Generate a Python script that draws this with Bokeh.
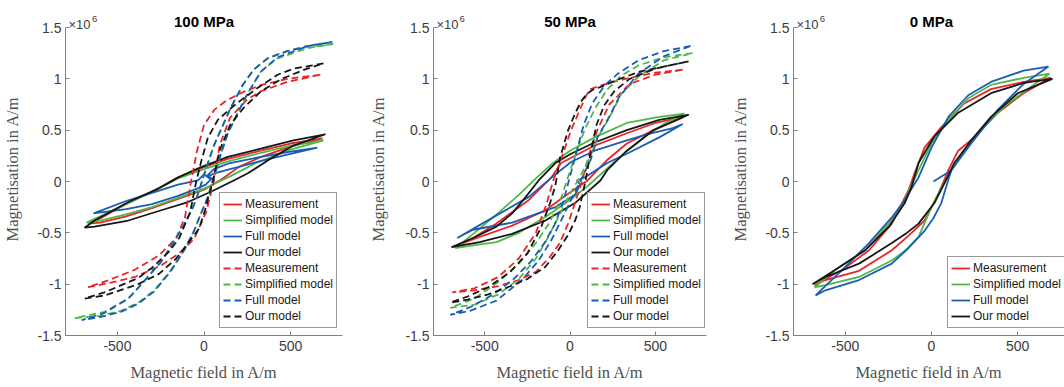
from bokeh.plotting import figure
from bokeh.layouts import row
from bokeh.models import Legend, LegendItem, FixedTicker, Range1d
from bokeh.core.properties import value
from bokeh.embed import file_html
from bokeh.resources import INLINE

# ---------------- data (H in A/m, M in 1e6 A/m) ----------------
titles = ["100 MPa", "50 MPa", "0 MPa"]
series_names = ["Measurement", "Simplified model", "Full model", "Our model"]
x_ticks = [-500, 0, 500]
x_tick_labels = ["-500", "0", "500"]
y_ticks = [-1.5, -1, -0.5, 0, 0.5, 1, 1.5]
y_tick_labels = ["-1.5", "-1", "-0.5", "0", "0.5", "1", "1.5"]
exp_base = "\u00d710"
exp_power = "6"

# 100 MPa, solid
H100_meas = [684, 500, 328, 138, 0, -150, -300, -450, -600, -667, -600, -450, -300, -150, 0, 100, 200, 330, 500, 684]
M100_meas = [0.42, 0.37, 0.30, 0.22, 0.14, 0.04, -0.10, -0.22, -0.36, -0.41, -0.40, -0.34, -0.26, -0.17, -0.08, 0.02, 0.14, 0.24, 0.34, 0.42]
H100_simp = [690, 500, 330, 150, 0, -150, -300, -450, -600, -678, -600, -450, -300, -150, 0, 150, 300, 500, 690]
M100_simp = [0.40, 0.35, 0.28, 0.20, 0.12, 0.03, -0.10, -0.22, -0.34, -0.40, -0.38, -0.32, -0.25, -0.16, -0.07, 0.05, 0.18, 0.31, 0.40]
H100_full = [655, 500, 330, 150, 57, 20, 40, 0, -35, -150, -300, -450, -638, -450, -300, -150, -40, 10, 45, 25, 60, 150, 330, 500, 655]
M100_full = [0.33, 0.29, 0.24, 0.18, 0.12, 0.06, 0.02, 0.07, 0.01, -0.03, -0.11, -0.19, -0.31, -0.27, -0.22, -0.14, -0.07, -0.03, 0.03, 0.05, 0.08, 0.12, 0.20, 0.27, 0.33]
H100_ours = [701, 517, 328, 138, -17, -149, -264, -437, -632, -690, -632, -437, -247, -92, 40, 172, 253, 402, 517, 701]
M100_ours = [0.46, 0.40, 0.32, 0.24, 0.14, 0.04, -0.07, -0.20, -0.38, -0.45, -0.44, -0.38, -0.28, -0.20, -0.10, 0.01, 0.08, 0.24, 0.35, 0.46]
# 100 MPa, dashed
H100_meas_d = [672, 480, 330, 225, 130, 60, 0, -40, -75, -110, -160, -260, -400, -550, -672, -550, -400, -250, -143, -57, 12, 57, 90, 150, 250, 330, 480, 672]
M100_meas_d = [1.04, 1.00, 0.94, 0.87, 0.79, 0.70, 0.55, 0.30, 0.0, -0.35, -0.55, -0.72, -0.86, -0.96, -1.03, -0.99, -0.93, -0.82, -0.70, -0.56, -0.30, 0.0, 0.35, 0.62, 0.80, 0.88, 0.97, 1.04]
H100_simp_d = [747, 600, 480, 368, 287, 224, 155, 115, 57, 23, -5, -30, -63, -115, -172, -247, -345, -437, -575, -747, -600, -480, -380, -287, -190, -115, -57, -17, 23, 75, 98, 138, 195, 253, 328, 425, 600, 747]
M100_simp_d = [1.34, 1.31, 1.27, 1.20, 1.09, 0.94, 0.72, 0.57, 0.35, 0.18, 0.04, -0.10, -0.25, -0.42, -0.58, -0.78, -0.97, -1.14, -1.27, -1.33, -1.31, -1.26, -1.18, -1.06, -0.86, -0.67, -0.48, -0.31, -0.15, 0.14, 0.27, 0.47, 0.67, 0.86, 1.07, 1.20, 1.30, 1.34]
H100_full_d = [741, 600, 480, 368, 287, 224, 155, 115, 57, 23, -5, -30, -63, -115, -172, -247, -345, -437, -575, -707, -600, -480, -380, -287, -190, -115, -57, -17, 23, 75, 98, 138, 195, 253, 328, 425, 600, 741]
M100_full_d = [1.36, 1.32, 1.27, 1.20, 1.09, 0.94, 0.72, 0.57, 0.35, 0.18, 0.04, -0.10, -0.25, -0.42, -0.58, -0.78, -0.97, -1.14, -1.28, -1.35, -1.32, -1.27, -1.19, -1.07, -0.87, -0.67, -0.48, -0.31, -0.15, 0.14, 0.27, 0.47, 0.67, 0.86, 1.07, 1.21, 1.32, 1.36]
H100_ours_d = [690, 520, 425, 300, 220, 160, 80, 23, -17, -45, -80, -143, -200, -300, -380, -575, -690, -575, -380, -260, -160, -92, -29, 6, 50, 90, 150, 230, 330, 450, 580, 690]
M100_ours_d = [1.15, 1.10, 1.04, 0.90, 0.80, 0.72, 0.60, 0.43, 0.19, 0.0, -0.30, -0.55, -0.68, -0.84, -0.94, -1.08, -1.14, -1.11, -1.00, -0.90, -0.75, -0.60, -0.46, -0.28, 0.0, 0.30, 0.55, 0.72, 0.88, 1.0, 1.09, 1.15]

# 50 MPa, solid
H50_meas = [667, 500, 333, 144, -52, -109, -241, -431, -586, -690, -529, -339, -144, -11, 103, 218, 333, 489, 667]
M50_meas = [0.63, 0.57, 0.47, 0.35, 0.18, 0.04, -0.18, -0.41, -0.57, -0.64, -0.54, -0.43, -0.28, -0.12, 0.01, 0.21, 0.37, 0.50, 0.63]
H50_simp = [672, 523, 333, 144, 0, -100, -200, -300, -430, -560, -672, -560, -431, -300, -150, 0, 100, 200, 300, 450, 560, 672]
M50_simp = [0.66, 0.63, 0.57, 0.43, 0.30, 0.18, 0.03, -0.13, -0.32, -0.50, -0.65, -0.62, -0.59, -0.50, -0.35, -0.18, -0.05, 0.10, 0.25, 0.45, 0.57, 0.66]
H50_full = [661, 603, 450, 333, 144, 6, -100, -241, -431, -661, -569, -339, -86, 29, 60, 40, 86, 218, 333, 523, 661]
M50_full = [0.56, 0.52, 0.46, 0.40, 0.30, 0.19, 0.05, -0.15, -0.33, -0.55, -0.47, -0.40, -0.25, -0.13, -0.03, 0.01, 0.04, 0.18, 0.27, 0.43, 0.56]
H50_ours = [695, 523, 333, 144, 6, -86, -184, -259, -339, -431, -569, -695, -529, -339, -144, 29, 178, 218, 333, 489, 695]
M50_ours = [0.65, 0.60, 0.50, 0.38, 0.27, 0.18, 0.01, -0.15, -0.31, -0.44, -0.55, -0.64, -0.59, -0.51, -0.38, -0.21, 0.01, 0.11, 0.30, 0.50, 0.65]
# 50 MPa, dashed
H50_meas_d = [661, 500, 350, 230, 170, 121, 92, 63, 6, -29, -69, -98, -138, -200, -300, -420, -560, -690, -560, -420, -300, -200, -120, -60, -11, 29, 70, 110, 160, 230, 350, 500, 661]
M50_meas_d = [1.09, 1.06, 1.01, 0.96, 0.93, 0.90, 0.83, 0.72, 0.50, 0.33, 0.14, 0.01, -0.22, -0.50, -0.75, -0.93, -1.04, -1.08, -1.06, -1.02, -0.96, -0.88, -0.74, -0.60, -0.41, -0.21, 0.0, 0.25, 0.50, 0.75, 0.95, 1.04, 1.09]
H50_simp_d = [718, 550, 400, 300, 220, 150, 90, 40, 0, -50, -120, -200, -300, -420, -560, -701, -560, -420, -300, -200, -130, -60, 0, 60, 120, 170, 230, 300, 400, 550, 718]
M50_simp_d = [1.25, 1.21, 1.13, 1.03, 0.90, 0.72, 0.52, 0.30, 0.10, -0.15, -0.40, -0.60, -0.80, -0.98, -1.14, -1.23, -1.20, -1.10, -0.95, -0.75, -0.55, -0.32, -0.12, 0.05, 0.25, 0.45, 0.62, 0.85, 1.02, 1.18, 1.25]
H50_full_d = [707, 550, 400, 280, 200, 130, 80, 40, 0, -40, -90, -150, -230, -330, -450, -580, -701, -586, -431, -282, -184, -109, -52, 0, 60, 121, 161, 230, 287, 400, 550, 707]
M50_full_d = [1.32, 1.27, 1.18, 1.05, 0.93, 0.76, 0.55, 0.30, 0.05, -0.20, -0.42, -0.60, -0.78, -0.95, -1.10, -1.22, -1.30, -1.26, -1.16, -0.96, -0.77, -0.57, -0.38, -0.20, 0.0, 0.21, 0.43, 0.63, 0.82, 1.05, 1.22, 1.32]
H50_ours_d = [695, 550, 408, 276, 178, 140, 103, 65, 29, -11, -57, -86, -115, -170, -250, -350, -480, -600, -701, -600, -480, -350, -250, -144, -69, -11, 30, 57, 90, 121, 155, 200, 260, 350, 500, 695]
M50_ours_d = [1.17, 1.12, 1.07, 0.99, 0.92, 0.90, 0.86, 0.78, 0.66, 0.50, 0.24, -0.04, -0.20, -0.45, -0.70, -0.88, -1.03, -1.12, -1.18, -1.15, -1.10, -1.02, -0.95, -0.83, -0.67, -0.52, -0.38, -0.25, 0.0, 0.28, 0.55, 0.74, 0.88, 1.00, 1.10, 1.17]

# 0 MPa, solid
H0_meas = [690, 534, 345, 190, 57, -40, -98, -132, -230, -362, -517, -678, -615, -420, -230, -134, -40, 40, 98, 155, 247, 385, 534, 690]
M0_meas = [1.01, 0.97, 0.90, 0.76, 0.53, 0.33, 0.08, -0.08, -0.41, -0.67, -0.86, -1.01, -0.96, -0.87, -0.67, -0.53, -0.38, -0.12, 0.11, 0.30, 0.43, 0.67, 0.86, 1.01]
H0_simp = [684, 534, 345, 213, 98, 0, -75, -155, -247, -385, -557, -678, -615, -420, -230, -150, -75, 0, 60, 120, 190, 287, 420, 575, 684]
M0_simp = [1.05, 1.01, 0.94, 0.81, 0.60, 0.37, 0.11, -0.18, -0.41, -0.67, -0.86, -1.03, -1.01, -0.93, -0.77, -0.67, -0.54, -0.25, -0.05, 0.12, 0.30, 0.50, 0.73, 0.92, 1.05]
H0_full = [11, 98, 115, 230, 385, 534, 678, 534, 345, 213, 98, 0, -75, -155, -230, -362, -517, -672, -615, -420, -230, -134, -40, 10, 57, 98, 115]
M0_full = [0.0, 0.09, 0.11, 0.37, 0.70, 0.95, 1.12, 1.08, 0.97, 0.84, 0.63, 0.33, 0.04, -0.18, -0.35, -0.60, -0.86, -1.11, -1.06, -0.96, -0.80, -0.65, -0.48, -0.36, -0.21, 0.02, 0.11]
H0_ours = [701, 534, 345, 155, 17, -75, -115, -155, -247, -385, -557, -690, -615, -420, -230, -150, -75, 17, 80, 132, 230, 345, 500, 701]
M0_ours = [1.0, 0.96, 0.86, 0.67, 0.44, 0.18, -0.05, -0.21, -0.44, -0.67, -0.86, -1.0, -0.93, -0.80, -0.60, -0.51, -0.41, -0.21, 0.0, 0.18, 0.40, 0.63, 0.86, 1.0]

# ---------------- styling ----------------
COLORS = ["#E8262A", "#4DB848", "#1B5DB4", "#161616"]
DASH = "7 4"
LW = 1.8
AX_COL = "#808080"
TICK_TXT = "#3c3c3c"
LBL_TXT = "#505050"

FIG_H = 387
BORDER_TOP = 2
BORDER_BOTTOM = 52
PX_PER_M = 308 / 3.0          # frame pixels per 1e6 A/m
PX_PER_H = 278 / 1600.0       # frame pixels per A/m
Y_TOP = -1.5 + (FIG_H - BORDER_TOP - BORDER_BOTTOM) / PX_PER_M

panels = [
    dict(title=titles[0], width=366, left=64, right=24, lstand=12,
         solid=[(H100_meas, M100_meas), (H100_simp, M100_simp), (H100_full, M100_full), (H100_ours, M100_ours)],
         dashed=[(H100_meas_d, M100_meas_d), (H100_simp_d, M100_simp_d), (H100_full_d, M100_full_d), (H100_ours_d, M100_ours_d)]),
    dict(title=titles[1], width=362, left=62, right=22, lstand=14,
         solid=[(H50_meas, M50_meas), (H50_simp, M50_simp), (H50_full, M50_full), (H50_ours, M50_ours)],
         dashed=[(H50_meas_d, M50_meas_d), (H50_simp_d, M50_simp_d), (H50_full_d, M50_full_d), (H50_ours_d, M50_ours_d)]),
    dict(title=titles[2], width=336, left=63, right=0, lstand=12,
         solid=[(H0_meas, M0_meas), (H0_simp, M0_simp), (H0_full, M0_full), (H0_ours, M0_ours)],
         dashed=[]),
]


def make_panel(cfg):
    frame_w = cfg["width"] - cfg["left"] - cfg["right"]
    x_end = -800 + frame_w / PX_PER_H
    p = figure(width=cfg["width"], height=FIG_H, output_backend="svg", toolbar_location=None,
               title=None,
               x_range=Range1d(-800, x_end), y_range=Range1d(-1.5, Y_TOP),
               min_border_left=cfg["left"], min_border_right=cfg["right"],
               min_border_top=BORDER_TOP, min_border_bottom=BORDER_BOTTOM)
    p.outline_line_color = None
    p.xgrid.visible = False
    p.ygrid.visible = False
    p.background_fill_color = "white"
    p.border_fill_color = "white"

    for ax, ticks, labels in ((p.xaxis, x_ticks, x_tick_labels), (p.yaxis, y_ticks, y_tick_labels)):
        ax.ticker = FixedTicker(ticks=ticks)
        ax.major_label_overrides = {t: l for t, l in zip(ticks, labels)}
        ax.axis_line_color = AX_COL
        ax.axis_line_width = 1
        ax.major_tick_line_color = AX_COL
        ax.major_tick_in = 4
        ax.major_tick_out = 0
        ax.minor_tick_line_color = None
        ax.major_label_text_font = "Liberation Sans"
        ax.major_label_text_font_size = "14px"
        ax.major_label_text_color = TICK_TXT
        ax.axis_label_text_font = "Liberation Serif"
        ax.axis_label_text_font_size = "16.5px"
        ax.axis_label_text_font_style = "normal"
        ax.axis_label_text_color = LBL_TXT
    p.yaxis.bounds = (-1.5, 1.5)
    p.xaxis.axis_label = "Magnetic field in A/m"
    p.yaxis.axis_label = "Magnetisation in A/m"
    p.xaxis.major_label_standoff = 5
    p.yaxis.major_label_standoff = 4
    p.xaxis.axis_label_standoff = 9
    p.yaxis.axis_label_standoff = cfg["lstand"]

    items = []
    for (h, m), c, name in zip(cfg["solid"], COLORS, series_names):
        r = p.line(h, m, line_color=c, line_width=LW)
        items.append(LegendItem(label=name, renderers=[r]))
    for (h, m), c, name in zip(cfg["dashed"], COLORS, series_names):
        r = p.line(h, m, line_color=c, line_width=LW, line_dash=DASH)
        items.append(LegendItem(label=name, renderers=[r]))

    leg = Legend(items=items, location=(154, 7), margin=0,
                 label_text_font="Liberation Sans", label_text_font_size="12px",
                 label_text_color="#1a1a1a",
                 glyph_width=19, glyph_height=16, label_height=16, label_standoff=3,
                 spacing=0, padding=3, border_line_color="#333333", border_line_width=1,
                 background_fill_color="white", background_fill_alpha=1)
    p.add_layout(leg)

    # title and exponent, drawn inside the (extended) frame above the y-axis bounds
    p.text(x=[0], y=[1.5 + 6 / PX_PER_M], text=[cfg["title"]], text_align="center",
           text_baseline="alphabetic", text_font=value("Liberation Sans"),
           text_font_style="bold", text_font_size="15px", text_color="black")
    p.text(x=[-800 + 3 / PX_PER_H], y=[1.5 + 3 / PX_PER_M], text=[exp_base], text_align="left",
           text_baseline="alphabetic", text_font=value("Liberation Sans"),
           text_font_size="13px", text_color=TICK_TXT)
    p.text(x=[-800 + 26.5 / PX_PER_H], y=[1.5 + 9 / PX_PER_M], text=[exp_power], text_align="left",
           text_baseline="alphabetic", text_font=value("Liberation Sans"),
           text_font_size="9.5px", text_color=TICK_TXT)
    return p


figs = [make_panel(c) for c in panels]
layout = row(*figs, spacing=0)
open("out.html", "w").write(file_html(layout, INLINE))
